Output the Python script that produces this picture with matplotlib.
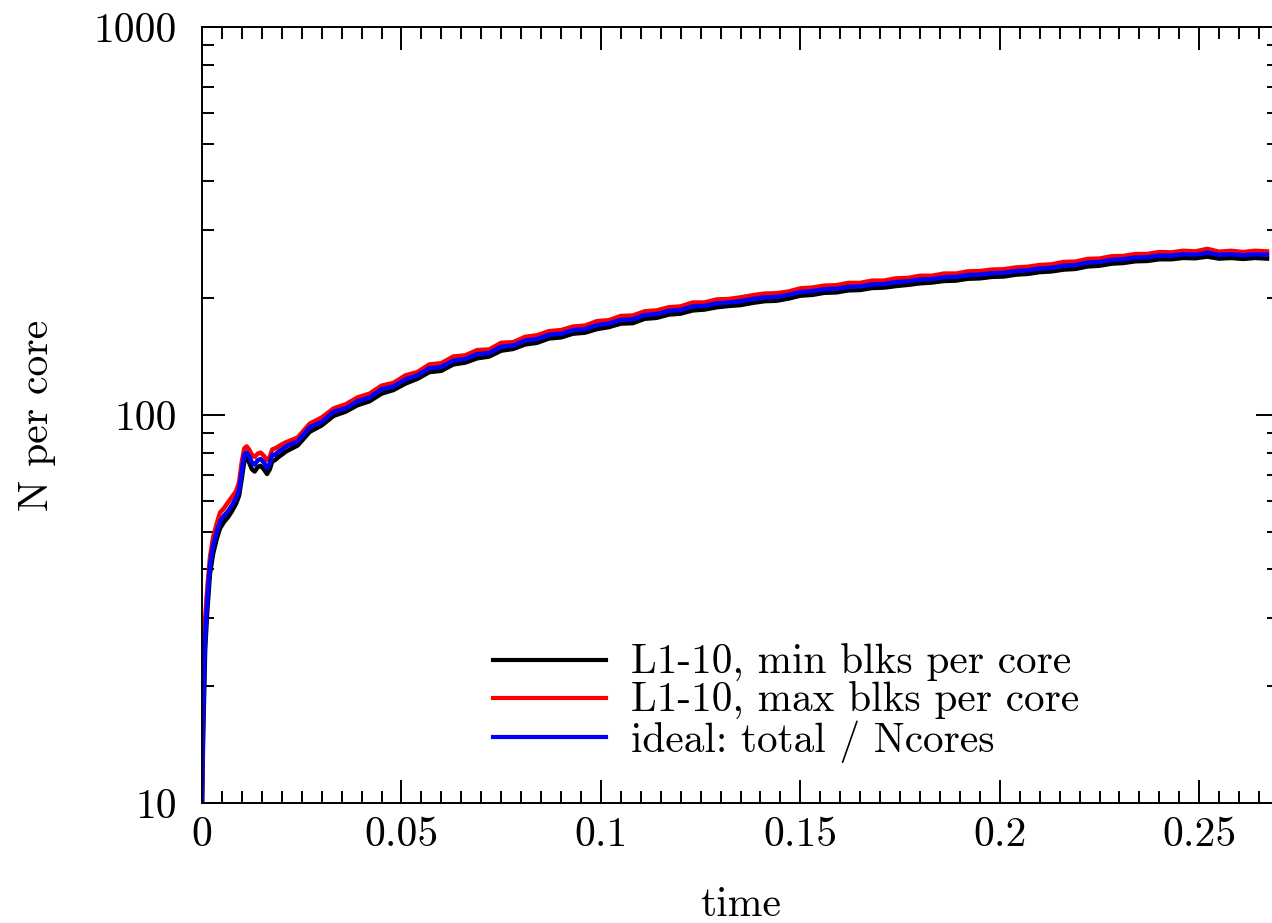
import matplotlib
matplotlib.use("Agg")
import matplotlib.pyplot as plt
from matplotlib.ticker import FixedLocator, MultipleLocator, NullFormatter

plt.rcParams['font.family'] = ['cmr10', 'DejaVu Serif']
plt.rcParams['axes.formatter.use_mathtext'] = True

# time samples (early part is denser because of the steep rise)
t_early = [0, 0.0003, 0.0008, 0.0013, 0.002, 0.0028, 0.0037, 0.0045, 0.0055, 0.0065,
           0.0075, 0.0085, 0.0093, 0.0100, 0.0106, 0.0112, 0.0118, 0.0125, 0.0132, 0.0140,
           0.0147, 0.0155, 0.0163, 0.0170, 0.0176, 0.0183, 0.0192, 0.0200]
t_main = [0.021, 0.024, 0.027, 0.030, 0.033, 0.036, 0.039, 0.042, 0.045, 0.048,
          0.051, 0.054, 0.057, 0.060, 0.063, 0.066, 0.069, 0.072, 0.075, 0.078,
          0.081, 0.084, 0.087, 0.090, 0.093, 0.096, 0.099, 0.102, 0.105, 0.108,
          0.111, 0.114, 0.117, 0.120, 0.123, 0.126, 0.129, 0.132, 0.135, 0.138,
          0.141, 0.144, 0.147, 0.150, 0.153, 0.156, 0.159, 0.162, 0.165, 0.168,
          0.171, 0.174, 0.177, 0.180, 0.183, 0.186, 0.189, 0.192, 0.195, 0.198,
          0.201, 0.204, 0.207, 0.210, 0.213, 0.216, 0.219, 0.222, 0.225, 0.228,
          0.231, 0.234, 0.237, 0.240, 0.243, 0.246, 0.249, 0.252, 0.255, 0.258,
          0.261, 0.264, 0.267]

# L1-10, min blks per core
min_early = [10, 15, 25, 31, 39, 44, 48, 51, 53, 54.5,
             56.5, 59, 62, 69, 76, 77.5, 75.5, 72.5, 71.5, 73.5,
             74, 72.5, 70.5, 72.5, 76, 76.5, 78, 79]
min_main = [80.5, 83.5, 90.5, 94, 99.5, 102, 106, 108.5, 113.5, 116,
            120.5, 124, 129, 130, 135, 136.5, 140, 141.5, 146.5, 148,
            152, 153.5, 157.5, 158.5, 162, 163, 166.5, 168.5, 172, 172.5,
            177, 178, 181.5, 182.5, 186, 187, 189.5, 191, 192, 194.5,
            196.5, 197, 199.5, 203, 204, 206.5, 207, 209.5, 210, 212.5,
            213, 215, 216.5, 218.5, 219.5, 221.5, 222, 224.5, 225, 227,
            227.5, 230, 231, 233.5, 234.5, 237, 238, 241.5, 242.5, 245.5,
            246.5, 249, 249.5, 252, 252, 254, 253.5, 256, 253, 254,
            252.5, 254, 253]

# L1-10, max blks per core
max_early = [10, 22, 30, 35.5, 43, 48.5, 52.5, 56, 57.5, 59.5,
             61.5, 63.5, 67, 76, 82, 83, 81.5, 79, 78, 79.5,
             80, 78.5, 76.5, 78, 81.5, 82, 83, 84]
max_main = [85, 87.5, 95, 98.5, 104, 106.5, 111, 113.5, 119, 121,
            126.5, 129, 135, 136, 141.5, 142.5, 147, 147.5, 153.5, 154,
            159, 160.5, 164.5, 165.5, 169, 170, 174.5, 175.5, 180, 180.5,
            185, 186, 189.5, 190.5, 195, 195, 198.5, 199, 201, 203.5,
            205.5, 206, 208, 212, 213, 215.5, 216, 219, 219, 222,
            222, 225, 225.5, 228.5, 228.5, 231.5, 231.5, 234.5, 235, 237,
            237.5, 240, 241, 243.5, 244.5, 248, 248.5, 252.5, 253, 256.5,
            257, 260, 260, 263, 262.5, 265, 264, 268, 263.5, 265,
            263, 265, 264]

# ideal: total / Ncores
ideal_early = [10, 17, 27, 33, 41, 46, 50, 53, 55, 56.5,
               58.5, 61, 64, 72, 79, 80, 78.5, 75.5, 74.5, 76.5,
               77, 75.5, 73, 75, 79, 79, 80.5, 81.5]
ideal_main = [83, 85.5, 93, 96, 102, 104, 108.5, 111, 116.5, 118.5,
              123.5, 126.5, 132, 133, 138, 139.5, 143.5, 144.5, 150, 151,
              155.5, 157, 161, 162, 165.5, 166.5, 170.5, 172, 176, 176.5,
              181, 182, 185.5, 186.5, 190.5, 191, 194, 195, 196.5, 199,
              201, 201.5, 204, 207.5, 208.5, 211, 211.5, 214, 214.5, 217,
              217.5, 220, 221, 223.5, 224, 226.5, 227, 229.5, 230, 232,
              232.5, 235, 236, 238.5, 239.5, 242.5, 243.5, 247, 248, 251,
              252, 254.5, 255, 257.5, 257.5, 259.5, 259, 262, 258.5, 259.5,
              258, 259.5, 259]

t = t_early + t_main
n_min = min_early + min_main
n_max = max_early + max_main
n_ideal = ideal_early + ideal_main

labels = ['L1-10, min blks per core', 'L1-10, max blks per core', 'ideal: total / Ncores']
colors = ['black', 'red', 'blue']

xticks = [0, 0.05, 0.1, 0.15, 0.2, 0.25]
xtick_labels = ['0', '0.05', '0.1', '0.15', '0.2', '0.25']
yticks = [10, 100, 1000]
ytick_labels = ['10', '100', '1000']

fig = plt.figure(figsize=(12.72, 9.23), dpi=100)
ax = fig.add_axes([202 / 1272, 120 / 923, 1077 / 1272, 776 / 923])

for y, lab, c in zip([n_min, n_max, n_ideal], labels, colors):
    ax.plot(t, y, color=c, lw=3.2, label=lab)

ax.set_yscale('log')
ax.set_ylim(10, 1000)
ax.set_xlim(0, 0.27)

ax.xaxis.set_major_locator(FixedLocator(xticks))
ax.set_xticklabels(xtick_labels)
ax.xaxis.set_minor_locator(MultipleLocator(0.005))
ax.yaxis.set_major_locator(FixedLocator(yticks))
ax.set_yticklabels(ytick_labels)
ax.yaxis.set_minor_formatter(NullFormatter())

ax.tick_params(which='both', direction='in', top=True, right=True, width=1.4, labelsize=30)
ax.tick_params(which='major', length=16.5)
ax.tick_params(which='minor', length=8.5)
ax.tick_params(axis='x', pad=10)
ax.tick_params(axis='y', pad=18)
for s in ax.spines.values():
    s.set_linewidth(1.4)

ax.set_xlabel('time', fontsize=30)
ax.set_ylabel('N per core', fontsize=30)
ax.xaxis.set_label_coords(0.5, -0.108)
ax.yaxis.set_label_coords(-0.136, 0.5)

leg = ax.legend(loc='upper left', bbox_to_anchor=(493 / 1272, 1 - 644 / 923),
                bbox_transform=fig.transFigure, frameon=False, fontsize=29.7,
                borderpad=0, borderaxespad=0, handlelength=2.75, handletextpad=0.6,
                labelspacing=0.0)
for h in leg.get_lines():
    h.set_linewidth(3)

fig.savefig('out.png', dpi=100)
